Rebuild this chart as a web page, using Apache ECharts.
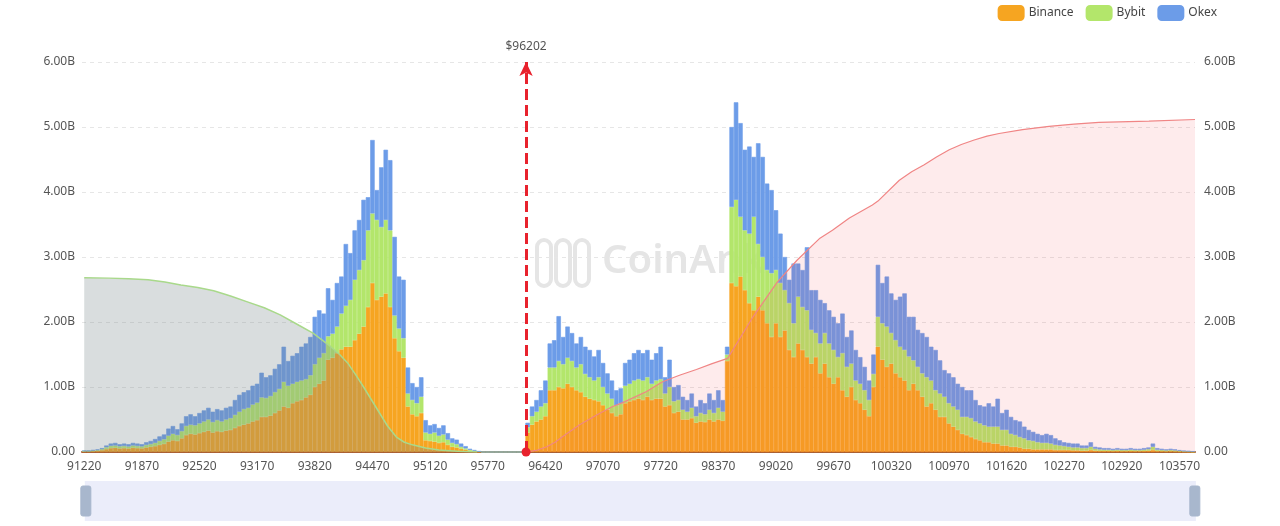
<!DOCTYPE html>
<html><head><meta charset="utf-8">
<script src="https://cdn.jsdelivr.net/npm/echarts@6/dist/echarts.min.js"></script>
<style>html,body{margin:0;padding:0;background:#fff}#c{width:1280px;height:526px}</style>
</head><body><div id="c"></div>
<script>
// ---- data (values in billions) ----
const priceStart = 91220;
const priceStep = 50;
const currentPrice = 96202;
const binance = [
.01,.01,.014,.018,.028,.045,.06,.065,.055,.06,
.055,.065,.06,.056,.07,.08,.09,.11,.125,.16,
.18,.17,.21,.26,.28,.27,.29,.31,.33,.30,
.32,.31,.33,.34,.37,.40,.42,.44,.47,.49,
.54,.54,.56,.60,.64,.70,.68,.75,.78,.80,
.84,.88,1.0,1.05,1.1,1.42,1.45,1.52,1.58,1.62,
1.62,1.72,1.82,1.93,2.23,2.6,2.34,2.39,2.44,2.23,
1.75,1.55,1.45,.7,.58,.55,.6,.18,.17,.16,
.14,.15,.11,.08,.07,.05,.035,.02,.012,.005,
0,0,0,0,0,0,0,0,0,0,
.3,.42,.47,.5,.55,.95,.95,1.0,.98,1.05,
1.0,.95,.92,.85,.82,.8,.78,.72,.65,.6,
.55,.58,.75,.78,.8,.82,.8,.85,.8,.82,
.82,.7,.72,.6,.62,.5,.5,.52,.45,.47,
.46,.5,.47,.5,.48,1.4,2.6,2.55,2.7,2.49,
2.29,2.18,2.39,2.18,1.98,1.77,1.98,1.77,1.87,1.57,
1.46,1.67,1.57,1.46,1.36,1.46,1.21,1.36,1.15,1.05,
1.15,.95,.85,1.0,.8,.75,.65,.55,1.0,1.62,
1.42,1.31,1.36,1.21,1.15,1.1,.95,1.05,.95,.85,
.7,.75,.65,.54,.54,.44,.39,.34,.28,.26,
.23,.2,.18,.15,.15,.13,.13,.1,.1,.08,
.08,.07,.05,.05,.04,.04,.04,.04,.04,.03,
.03,.03,.03,.025,.025,.02,.02,.03,.02,.015,
.015,.015,.012,.015,.012,.012,.015,.012,.012,.015,
.018,.03,.015,.012,.01,.012,.01,.008,.005,.004,.003
];
const bybit = [
.005,.005,.008,.011,.015,.027,.035,.035,.032,.033,
.03,.035,.032,.03,.038,.042,.05,.06,.07,.09,
.1,.09,.11,.14,.14,.14,.15,.16,.17,.16,
.17,.16,.17,.18,.2,.22,.24,.24,.26,.27,
.3,.29,.3,.32,.33,.38,.34,.3,.3,.3,
.28,.3,.35,.4,.42,.36,.37,.41,.55,.63,
.72,.93,.98,1.02,1.18,1.07,1.23,1.07,1.13,1.18,
.35,.35,.3,.2,.22,.2,.25,.12,.11,.14,
.11,.12,.08,.06,.05,.03,.02,.012,.008,.003,
0,0,0,0,0,0,0,0,0,0,
.08,.13,.15,.2,.2,.35,.35,.4,.37,.4,
.4,.35,.43,.35,.33,.3,.37,.28,.25,.22,
.17,.17,.27,.27,.3,.3,.3,.3,.25,.28,
.3,.2,.28,.18,.18,.15,.12,.16,.1,.13,
.12,.15,.13,.18,.14,.1,1.17,1.33,.92,.92,
1.07,1.44,.81,.82,.82,.98,.82,.83,.62,.72,
.52,.72,.66,.72,.52,.37,.46,.47,.52,.52,
.31,.57,.46,.36,.3,.3,.3,.25,.2,.46,
.56,.62,.47,.51,.47,.47,.52,.36,.36,.36,
.45,.35,.3,.36,.31,.31,.31,.31,.26,.28,
.29,.27,.26,.26,.24,.26,.26,.24,.24,.2,
.18,.16,.16,.13,.13,.11,.1,.1,.09,.08,
.07,.06,.05,.045,.045,.04,.04,.05,.03,.025,
.02,.02,.018,.02,.018,.018,.02,.018,.018,.02,
.025,.05,.02,.018,.015,.018,.015,.01,.007,.005,.003
];
const okex = [
.005,.005,.008,.011,.017,.028,.035,.04,.033,.037,
.035,.04,.038,.034,.042,.048,.06,.07,.075,.11,
.12,.09,.12,.15,.16,.14,.16,.17,.18,.16,
.17,.17,.18,.18,.23,.26,.26,.27,.29,.29,
.38,.32,.32,.36,.38,.54,.38,.43,.44,.52,
.55,.59,.73,.73,.61,.74,.52,.67,.57,.95,
.72,.76,.77,.93,.51,1.13,.46,.92,1.08,1.08,
1.21,.8,.9,.4,.26,.25,.3,.19,.13,.13,
.12,.14,.1,.07,.07,.05,.035,.018,.01,.002,
0,0,0,0,0,0,0,0,0,0,
.07,.15,.18,.25,.35,.37,.42,.69,.42,.48,
.43,.37,.42,.42,.42,.37,.42,.37,.31,.28,
.23,.23,.35,.37,.42,.45,.42,.42,.37,.42,
.5,.25,.42,.22,.23,.2,.18,.22,.15,.2,
.17,.25,.2,.27,.18,.12,1.23,1.5,1.44,1.24,
1.34,.92,1.55,1.54,1.33,1.28,.92,.76,.51,.36,
.92,.51,.57,.97,.61,.66,.67,.46,.51,.51,
.52,.61,.46,.51,.47,.41,.36,.3,.3,.8,
.62,.77,.61,.62,.77,.87,.61,.67,.57,.62,
.62,.52,.62,.51,.41,.46,.45,.4,.46,.41,
.43,.33,.28,.29,.36,.31,.43,.26,.31,.26,
.23,.24,.18,.16,.14,.13,.12,.14,.13,.1,
.08,.06,.06,.06,.06,.04,.04,.07,.03,.03,
.025,.025,.02,.025,.02,.02,.025,.02,.02,.025,
.027,.05,.025,.02,.015,.02,.015,.012,.008,.006,.004
];
// cumulative curves: [price, value in billions]
const shortCum = [[91220,2.68],[91500,2.675],[91720,2.665],[91940,2.65],[92130,2.615],[92310,2.57],[92500,2.53],[92680,2.48],[92870,2.40],[93060,2.31],[93250,2.22],[93430,2.11],[93640,1.95],[93800,1.83],[94000,1.62],[94100,1.50],[94190,1.37],[94280,1.19],[94370,1.0],[94460,0.8],[94550,0.6],[94640,0.40],[94740,0.23],[94830,0.15],[94920,0.11],[95070,0.06],[95220,0.03],[95430,0.01],[95650,0.0]];
const longCum = [[96202,0],[96330,0.03],[96436,0.08],[96530,0.15],[96616,0.24],[96807,0.42],[96998,0.57],[97178,0.70],[97291,0.76],[97561,0.93],[97741,1.08],[97932,1.18],[98123,1.27],[98300,1.36],[98475,1.44],[98762,2.08],[99032,2.61],[99257,2.95],[99516,3.29],[99657,3.41],[99848,3.6],[100107,3.8],[100170,3.86],[100411,4.18],[100550,4.31],[100692,4.42],[100830,4.54],[100974,4.65],[101110,4.73],[101255,4.8],[101400,4.86],[101536,4.9],[101800,4.96],[102099,5.01],[102380,5.045],[102662,5.07],[103225,5.09],[103745,5.115]];

const categories = binance.map((_, i) => String(priceStart + i * priceStep));
const axisMin = priceStart - priceStep / 2;
const axisMax = priceStart + (binance.length - 0.5) * priceStep;

const FONT = '"Noto Sans", sans-serif';
const fmt = v => v === 0 ? '0.00' : v.toFixed(2) + 'B';
const barStyle = c => ({ color: c, borderColor: c, borderWidth: 0.6 });
const chart = echarts.init(document.getElementById('c'));
chart.setOption({
  animation: false,
  textStyle: { fontFamily: FONT },
  legend: {
    data: ['Binance', 'Bybit', 'Okex'], right: 58, top: 0,
    itemWidth: 25, itemHeight: 14, itemGap: 12, icon: 'roundRect',
    textStyle: { color: '#444', fontSize: 12, fontFamily: FONT }
  },
  grid: { left: 82, right: 85, top: 62, bottom: 74 },
  graphic: [
    { type: 'rect', z: 0, shape: { x: 537, y: 240, width: 14, height: 46, r: 7 }, style: { fill: 'none', stroke: '#e5e5e5', lineWidth: 4 } },
    { type: 'rect', z: 0, shape: { x: 556, y: 240, width: 14, height: 46, r: 7 }, style: { fill: 'none', stroke: '#e5e5e5', lineWidth: 4 } },
    { type: 'rect', z: 0, shape: { x: 575, y: 240, width: 14, height: 46, r: 7 }, style: { fill: 'none', stroke: '#e5e5e5', lineWidth: 4 } },
    { type: 'text', z: 0, x: 602, y: 242, style: { text: 'CoinAnk', fill: '#e5e5e5', font: '600 40px "Noto Sans", sans-serif' } }
  ],
  xAxis: [
    {
      type: 'category', data: categories,
      axisLine: { lineStyle: { color: '#a35a36', width: 2 } },
      axisTick: { show: false },
      axisLabel: { interval: 12, color: '#555', fontSize: 12, margin: 9 },
      splitLine: { show: false }
    },
    { type: 'value', min: axisMin, max: axisMax, show: false, splitLine: { show: false } }
  ],
  yAxis: [
    {
      type: 'value', min: 0, max: 6, interval: 1,
      axisLabel: { formatter: fmt, color: '#555', fontSize: 12, margin: 7 },
      axisLine: { show: false }, axisTick: { show: false },
      splitLine: { lineStyle: { color: '#e6e6e6', type: [4, 4] } }
    },
    {
      type: 'value', min: 0, max: 6, interval: 1, position: 'right',
      axisLabel: { formatter: fmt, color: '#555', fontSize: 12, margin: 9 },
      axisLine: { show: false }, axisTick: { show: false },
      splitLine: { show: false }
    }
  ],
  dataZoom: [{
    type: 'slider', xAxisIndex: 0, start: 0, end: 100,
    left: 84, right: 85, top: 481, height: 40,
    showDetail: false, brushSelect: false, showDataShadow: false,
    moveHandleSize: 0, moveHandleStyle: { opacity: 0 },
    backgroundColor: '#eef0fb', borderColor: 'transparent',
    fillerColor: 'rgba(228,232,248,0.3)',
    handleIcon: 'path://M2,0 h6 a2,2 0 0 1 2,2 v26 a2,2 0 0 1 -2,2 h-6 a2,2 0 0 1 -2,-2 v-26 a2,2 0 0 1 2,-2 z',
    handleSize: '75%',
    handleStyle: { color: '#a8b7cd', borderColor: '#a8b7cd' }
  }],
  series: [
    { name: 'Binance', type: 'bar', stack: 'total', data: binance, barCategoryGap: '0%', itemStyle: barStyle('#f6a521'), emphasis: { disabled: true } },
    { name: 'Bybit', type: 'bar', stack: 'total', data: bybit, barCategoryGap: '0%', itemStyle: barStyle('#b3e66b'), emphasis: { disabled: true } },
    { name: 'Okex', type: 'bar', stack: 'total', data: okex, barCategoryGap: '0%', itemStyle: barStyle('#6c9ce8'), emphasis: { disabled: true } },
    {
      name: 'shortCum', type: 'line', xAxisIndex: 1, yAxisIndex: 0, data: shortCum,
      showSymbol: false, smooth: false,
      lineStyle: { color: '#a9d98b', width: 1.5 },
      areaStyle: { color: 'rgba(118,132,138,0.4)' }, emphasis: { disabled: true }
    },
    {
      name: 'longCum', type: 'line', xAxisIndex: 1, yAxisIndex: 0, data: longCum,
      showSymbol: false, smooth: false,
      lineStyle: { color: '#f08585', width: 1.2 },
      areaStyle: { color: 'rgba(241,62,75,0.15)' }, emphasis: { disabled: true },
      markLine: {
        silent: true, animation: false,
        lineStyle: { color: '#e8222d', width: 3, type: [11, 5] },
        label: { show: true, position: 'end', formatter: '$' + currentPrice, color: '#555', fontSize: 12, distance: 9 },
        data: [[
          { coord: [currentPrice, 0], symbol: 'circle', symbolSize: 9 },
          { coord: [currentPrice, 6], symbol: 'arrow', symbolSize: [10, 14] }
        ]]
      }
    }
  ]
});
</script>
</body></html>
